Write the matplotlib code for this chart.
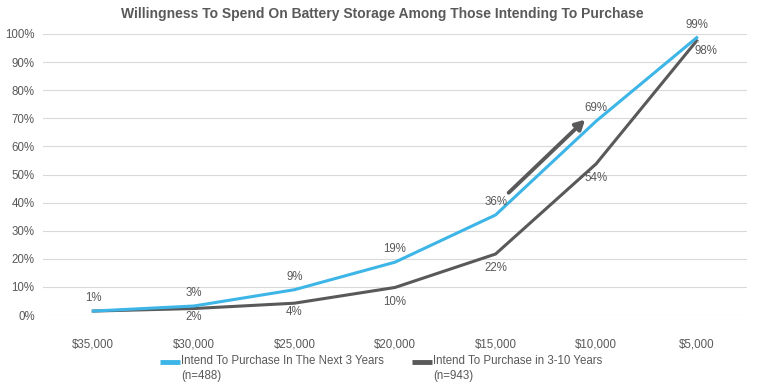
import matplotlib.pyplot as plt
from matplotlib.lines import Line2D
import numpy as np

plt.rcParams['font.family'] = ['Liberation Sans', 'DejaVu Sans']

## the data
prices = ['$35,000', '$30,000', '$25,000', '$20,000', '$15,000', '$10,000', '$5,000']
next3 = [1.4, 3.2, 9.0, 18.8, 35.6, 69.0, 98.7]
next3_10 = [1.4, 2.3, 4.2, 9.8, 21.7, 53.8, 97.6]
next3_name = 'Intend To Purchase In The Next 3 Years\n(n=488)'
next3_10_name = 'Intend To Purchase in 3-10 Years\n(n=943)'

blue = '#3DB5E6'
gray = '#595959'
txt = '#595959'
fs = 8.3

fig = plt.figure(figsize=(7.64, 3.88), dpi=100)
ax = fig.add_axes([43/764, 1-315/388, 704/764, 281/388])

x = np.arange(len(prices))
l1, = ax.plot(x, next3, color=blue, lw=2.2, zorder=3)
l2, = ax.plot(x, next3_10, color=gray, lw=2.2, zorder=2)

## data labels: blue above, gray below
for i, v in enumerate(next3):
    ax.annotate(f'{v:.0f}%', (x[i], v), xytext=(0, 5), textcoords='offset points',
                ha='center', va='bottom', fontsize=fs, color=txt)
for i, v in enumerate(next3_10):
    if i == 0:
        continue  # hidden under the blue label
    if i == len(x) - 1:
        ax.annotate(f'{v:.0f}%', (x[i], v), xytext=(7, -12), textcoords='offset points',
                    ha='center', va='bottom', fontsize=fs, color=txt,
                    arrowprops=dict(arrowstyle='-', color='#BFBFBF', lw=0.8,
                                    shrinkA=4, shrinkB=1))
        continue
    dy = -2 if i < 3 else -6
    ax.annotate(f'{v:.0f}%', (x[i], v), xytext=(0, dy), textcoords='offset points',
                ha='center', va='top', fontsize=fs, color=txt)

## trend arrow
ax.annotate('', xy=(4.89, 69.5), xytext=(4.13, 43.5),
            arrowprops=dict(arrowstyle='-|>,head_width=0.3,head_length=0.55',
                            color=gray, lw=2.8, shrinkA=0, shrinkB=0))

ax.set_xlim(-0.5, 6.5)
ax.set_ylim(0, 100)
ax.set_yticks(np.arange(0, 101, 10))
ax.set_yticklabels([f'{t}%' for t in range(0, 101, 10)])
ax.set_xticks(x)
ax.set_xticklabels(prices)
ax.tick_params(axis='both', length=0, labelsize=fs, labelcolor=txt)
ax.tick_params(axis='x', pad=17)
ax.tick_params(axis='y', pad=6)
ax.grid(axis='y', color='#D9D9D9', lw=0.8)
ax.set_axisbelow(True)
for s in ax.spines.values():
    s.set_visible(False)

fig.text(0.5, 1-14/388, 'Willingness To Spend On Battery Storage Among Those Intending To Purchase',
         ha='center', va='center', fontsize=10, fontweight='bold', color=txt)

## legend, handle level with the first line of each entry
for (x0, x1), line, name in [((160, 180), l1, next3_name), ((412, 432), l2, next3_10_name)]:
    y = 1 - 362/388
    fig.add_artist(Line2D([x0/764, x1/764], [y, y], color=line.get_color(), lw=3.5,
                          solid_capstyle='butt', transform=fig.transFigure))
    fig.text((x1 + 1)/764, y + 7/388, name, ha='left', va='top', fontsize=fs,
             color=txt, linespacing=1.35)

fig.savefig('out.png', dpi=100)
